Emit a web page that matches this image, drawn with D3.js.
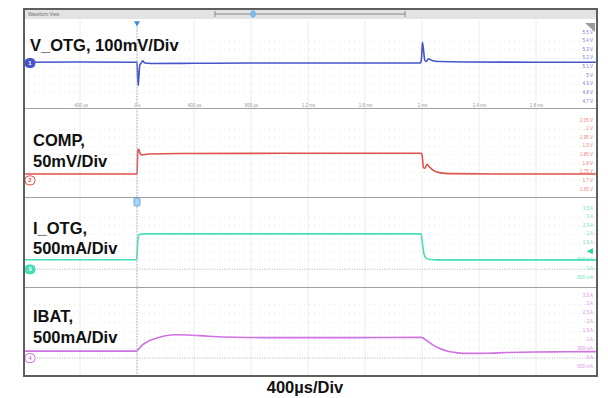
<!DOCTYPE html>
<html>
<head>
<meta charset="utf-8">
<script src="https://cdn.jsdelivr.net/npm/d3@7"></script>
<style>
  body { margin: 0; background: #fff; }
  svg { display: block; font-family: "Liberation Sans", Arial, sans-serif; }
</style>
</head>
<body>
<div id="chart"></div>
<script>
// time axis (ms)
const timeTicks = [-0.4, 0, 0.4, 0.8, 1.2, 1.6, 2.0, 2.4, 2.8];
const timeTickLabels = ['-400 µs', '0 s', '400 µs', '800 µs', '1.2 ms', '1.6 ms', '2 ms', '2.4 ms', '2.8 ms'];
const gridTimes = [-0.4, 0, 0.4, 0.8, 1.2, 1.6, 2.0, 2.4, 2.8];

// right hand scale labels per channel
const vOtgTicks = [5.5, 5.4, 5.3, 5.2, 5.1, 5.0, 4.9, 4.8, 4.7];
const vOtgTickLabels = ['5.5 V', '5.4 V', '5.3 V', '5.2 V', '5.1 V', '5 V', '4.9 V', '4.8 V', '4.7 V'];
const compTicks = [2.05, 2.0, 1.95, 1.9, 1.85, 1.8, 1.75, 1.7, 1.65];
const compTickLabels = ['2.05 V', '2 V', '1.95 V', '1.9 V', '1.85 V', '1.8 V', '1.75 V', '1.7 V', '1.65 V'];
const ampTicks = [3.5, 3.0, 2.5, 2.0, 1.5, 1.0, 0.5, 0, -0.5];
const ampTickLabels = ['3.5 A', '3 A', '2.5 A', '2 A', '1.5 A', '1 A', '500 mA', '0 A', '-500 mA'];

// waveforms: [time ms, value]
const vOtg = [[-0.8,5.15],[-0.4,5.152],[-0.01,5.15],[0,5.148],[0.004,5.0],[0.008,4.88],[0.013,4.98],
  [0.02,5.12],[0.03,5.14],[0.04,5.165],[0.055,5.14],[0.1,5.135],[0.4,5.137],[0.8,5.14],[1.2,5.14],
  [1.6,5.14],[1.99,5.142],[1.997,5.2],[2.003,5.38],[2.01,5.3],[2.02,5.17],[2.03,5.16],[2.045,5.19],
  [2.07,5.17],[2.12,5.158],[2.3,5.152],[2.8,5.15],[3.22,5.15]];
const comp = [[-0.8,1.737],[-0.005,1.737],[0,1.74],[0.006,1.875],[0.012,1.88],[0.02,1.86],[0.035,1.848],
  [0.08,1.853],[0.3,1.856],[1.0,1.857],[1.6,1.857],[1.995,1.857],[2.0,1.85],[2.01,1.775],[2.02,1.77],
  [2.035,1.793],[2.05,1.78],[2.08,1.758],[2.12,1.745],[2.2,1.739],[2.5,1.737],[3.22,1.737]];
const iOtg = [[-0.8,0.5],[-0.003,0.5],[0.003,1.2],[0.008,1.8],[0.015,1.95],[0.03,1.99],[0.06,2.0],
  [1.99,2.0],[1.995,1.95],[2.005,1.3],[2.015,0.8],[2.03,0.58],[2.06,0.51],[2.1,0.49],[3.22,0.49]];
const iBat = [[-0.8,0.34],[-0.005,0.34],[0.01,0.45],[0.04,0.7],[0.08,0.9],[0.14,1.08],[0.2,1.2],
  [0.27,1.26],[0.35,1.25],[0.5,1.18],[0.7,1.12],[0.9,1.1],[1.5,1.1],[1.99,1.11],[2.0,1.1],[2.03,0.95],
  [2.07,0.72],[2.12,0.5],[2.18,0.33],[2.25,0.24],[2.32,0.21],[2.45,0.22],[2.6,0.26],[2.8,0.29],
  [3.0,0.3],[3.22,0.31]];

const W = 608, H = 398;
const frame = { x0: 24, x1: 597, y0: 9, y1: 376 };

const svg = d3.select('#chart').append('svg')
  .attr('width', W).attr('height', H);

svg.append('defs').append('clipPath').attr('id', 'clip')
  .append('rect')
    .attr('x', frame.x0).attr('y', frame.y0)
    .attr('width', frame.x1 - frame.x0).attr('height', frame.y1 - frame.y0);

const x = d3.scaleLinear().domain([-0.8, 3.2]).range([23, 593]);

const panels = [
  { name: 'ch1', top: 19, bottom: 108, y: d3.scaleLinear().domain([4.7, 5.5]).range([101, 32]),
    ticks: vOtgTicks, labels: vOtgTickLabels, data: vOtg, color: '#4654cc', labelColor: '#7480da',
    title: ['V_OTG, 100mV/Div'], tx: 30, ty: [51], marker: '1', markerAt: 5.14, filled: true },
  { name: 'ch2', top: 108, bottom: 197, y: d3.scaleLinear().domain([1.65, 2.05]).range([189, 120]),
    ticks: compTicks, labels: compTickLabels, data: comp, color: '#e0524c', labelColor: '#ec8480',
    title: ['COMP,', '50mV/Div'], tx: 33, ty: [146, 167], marker: '2', markerAt: 1.7, filled: false },
  { name: 'ch3', top: 197, bottom: 287, y: d3.scaleLinear().domain([-0.5, 3.5]).range([277, 208]),
    ticks: ampTicks, labels: ampTickLabels, data: iOtg, color: '#46dfb8', labelColor: '#6ee3c6',
    title: ['I_OTG,', '500mA/Div'], tx: 33, ty: [234, 254], marker: '3', markerAt: 0, filled: true, zeroLine: true },
  { name: 'ch4', top: 287, bottom: 376, y: d3.scaleLinear().domain([-0.5, 3.5]).range([366, 295]),
    ticks: ampTicks, labels: ampTickLabels, data: iBat, color: '#cf72e2', labelColor: '#da94e6',
    title: ['IBAT,', '500mA/Div'], tx: 33, ty: [322, 343], marker: '4', markerAt: 0, filled: false, zeroLine: true }
];

// frame background
svg.append('rect')
  .attr('x', frame.x0).attr('y', frame.y0)
  .attr('width', frame.x1 - frame.x0).attr('height', frame.y1 - frame.y0)
  .attr('fill', '#fff');

// header bar
svg.append('rect')
  .attr('x', frame.x0).attr('y', frame.y0)
  .attr('width', frame.x1 - frame.x0).attr('height', 10)
  .attr('fill', '#e3e3e3');
svg.append('text')
  .attr('x', 28).attr('y', 16)
  .attr('font-size', 4.5).attr('fill', '#6f6f6f')
  .text('Waveform View');
const slider = svg.append('g').attr('stroke', '#8a8a8a').attr('stroke-width', 1);
slider.append('line').attr('x1', 215).attr('x2', 405).attr('y1', 14).attr('y2', 14);
slider.append('line').attr('x1', 215).attr('x2', 215).attr('y1', 11).attr('y2', 17);
slider.append('line').attr('x1', 405).attr('x2', 405).attr('y1', 11).attr('y2', 17);
svg.append('rect').attr('x', 251).attr('y', 11).attr('width', 4).attr('height', 6).attr('rx', 1.5)
  .attr('fill', '#7cc0f0').attr('stroke', '#4a9ae0').attr('stroke-width', 0.6);

const plot = svg.append('g').attr('clip-path', 'url(#clip)');

panels.forEach(p => {
  const g = plot.append('g').attr('class', p.name);

  // vertical grid
  g.selectAll('line.vg').data(gridTimes).enter().append('line')
    .attr('class', 'vg')
    .attr('x1', d => x(d)).attr('x2', d => x(d))
    .attr('y1', p.top + 1).attr('y2', p.bottom)
    .attr('stroke', '#ececec').attr('stroke-width', 1);

  // horizontal dotted grid
  g.selectAll('line.hg').data(p.ticks.slice(1, -1)).enter().append('line')
    .attr('class', 'hg')
    .attr('x1', frame.x0).attr('x2', frame.x1)
    .attr('y1', d => Math.round(p.y(d)) + 0.5).attr('y2', d => Math.round(p.y(d)) + 0.5)
    .attr('stroke', '#e6e6e6').attr('stroke-width', 1).attr('stroke-dasharray', '1,4');

  if (p.zeroLine) {
    g.append('line')
      .attr('x1', frame.x0 + 8).attr('x2', frame.x1)
      .attr('y1', p.y(0) + 1).attr('y2', p.y(0) + 1)
      .attr('stroke', '#b9c4c4').attr('stroke-width', 1).attr('stroke-dasharray', '1,1.5');
  }

  // right scale labels
  g.selectAll('text.rl').data(p.ticks).enter().append('text')
    .attr('class', 'rl')
    .attr('x', 593).attr('y', d => p.y(d) + 1.5)
    .attr('text-anchor', 'end')
    .attr('font-size', 4.5).attr('fill', p.labelColor)
    .text((d, i) => p.labels[i]);

  // separator below panel
  svg.append('line')
    .attr('x1', frame.x0).attr('x2', frame.x1)
    .attr('y1', p.bottom + 0.5).attr('y2', p.bottom + 0.5)
    .attr('stroke', '#a0a0a0').attr('stroke-width', 1.2);
});

// time labels in first panel
const xAxis = d3.axisBottom(x)
  .tickValues(timeTicks)
  .tickSize(0)
  .tickFormat((d, i) => timeTickLabels[i]);
const xa = plot.append('g')
  .attr('transform', 'translate(0,101)')
  .call(xAxis);
xa.select('.domain').remove();
xa.selectAll('text').attr('font-size', 4.5).attr('fill', '#999').attr('font-family', 'Liberation Sans, Arial, sans-serif');

// trigger position line
svg.append('line')
  .attr('x1', x(0)).attr('x2', x(0))
  .attr('y1', 24).attr('y2', frame.y1)
  .attr('stroke', '#a9b4c6').attr('stroke-width', 1).attr('stroke-dasharray', '1.5,1.5');
svg.append('path')
  .attr('d', d3.symbol(d3.symbolTriangle, 16)())
  .attr('transform', `translate(${x(0)},23) rotate(180)`)
  .attr('fill', '#3b8fd9');

// traces
const line = d3.line().curve(d3.curveMonotoneX);
panels.forEach(p => {
  line.x(d => x(d[0])).y(d => p.y(d[1]));
  plot.append('path')
    .datum(p.data)
    .attr('d', line)
    .attr('fill', 'none')
    .attr('stroke', p.color)
    .attr('stroke-width', 1.6)
    .attr('stroke-linejoin', 'round');
});

// channel markers
panels.forEach(p => {
  const my = p.y(p.markerAt) + (p.zeroLine ? 1 : 0);
  const mg = svg.append('g').attr('transform', `translate(30,${my})`);
  mg.append('rect')
    .attr('x', -5).attr('y', -4.5).attr('width', 10).attr('height', 9).attr('rx', 4)
    .attr('fill', p.filled ? p.color : '#fff')
    .attr('stroke', p.color).attr('stroke-width', 1);
  mg.append('text')
    .attr('y', 2).attr('text-anchor', 'middle')
    .attr('font-size', 6).attr('font-weight', 'bold')
    .attr('fill', p.filled ? '#fff' : p.color)
    .text(p.marker);
});

// trigger level marker on I_OTG panel
svg.append('rect')
  .attr('x', x(0) - 3).attr('y', 198).attr('width', 6).attr('height', 8).attr('rx', 1.5)
  .attr('fill', '#a9d6f5').attr('stroke', '#4a93d6').attr('stroke-width', 0.8);

// ch3 level arrow on the right
svg.append('path')
  .attr('d', d3.symbol(d3.symbolTriangle, 18)())
  .attr('transform', `translate(591,${panels[2].y(1)}) rotate(-90)`)
  .attr('fill', '#2fcf9f');

// ch1 corner icon
svg.append('path')
  .attr('d', 'M585,23 L595,23 L595,32 Z')
  .attr('fill', '#9a9a9a');

// frame border
svg.append('rect')
  .attr('x', frame.x0).attr('y', frame.y0)
  .attr('width', frame.x1 - frame.x0).attr('height', frame.y1 - frame.y0)
  .attr('fill', 'none').attr('stroke', '#5e5e5e').attr('stroke-width', 2);

// channel titles
panels.forEach(p => {
  p.title.forEach((t, i) => {
    svg.append('text')
      .attr('x', p.tx).attr('y', p.ty[i])
      .attr('font-size', 16.5).attr('font-weight', 'bold').attr('fill', '#111')
      .text(t);
  });
});

// time base
svg.append('text')
  .attr('x', 305).attr('y', 393)
  .attr('text-anchor', 'middle')
  .attr('font-size', 16.5).attr('font-weight', 'bold').attr('fill', '#111')
  .text('400µs/Div');
</script>
</body>
</html>
